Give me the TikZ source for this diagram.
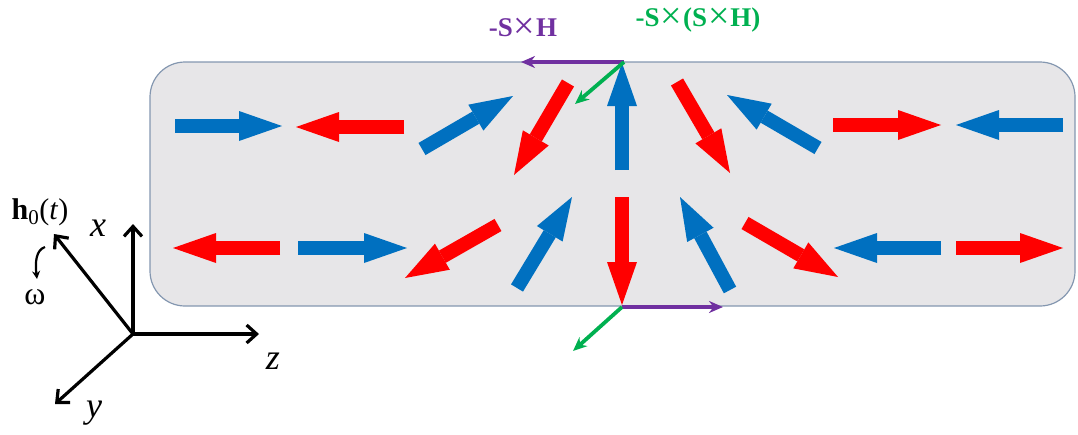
\documentclass[tikz,border=0pt]{standalone}
\usepackage{fontspec}
\setmainfont{Liberation Serif}
\usetikzlibrary{arrows.meta}
\definecolor{sblue}{HTML}{0070C0}
\definecolor{sred}{HTML}{FF0000}
\definecolor{vpurple}{HTML}{7030A0}
\definecolor{vgreen}{HTML}{00B050}
\definecolor{boxfill}{HTML}{E7E6E8}
\definecolor{boxedge}{HTML}{8497B0}
\newcommand{\crossx}{\hspace{1pt}\smash{\raisebox{-2pt}{\fontsize{38}{38}\selectfont\mdseries×}}\hspace{1pt}}
\tikzset{
  spin/.style={line width=14pt,draw=#1,-{Triangle[length=43pt,width=30pt,line width'=0pt]}},
  vec/.style={line width=3.8pt,draw=#1,-{Stealth[length=14pt,width=12pt]}},
  axis/.style={line width=3.2pt,-{Straight Barb[length=10pt,width=18pt]}},
  axlabel/.style={font=\fontsize{36}{40}\selectfont\itshape},
  veclabel/.style={font=\fontsize{27}{30}\selectfont\bfseries,text=#1}
}
\begin{document}
\begin{tikzpicture}[x=1pt,y=-1pt]
\useasboundingbox (0,0) rectangle (1078,434);
% vzorek
\draw[fill=boxfill,draw=boxedge,line width=1.2pt,rounded corners=35pt] (150,62) rectangle (1075,306);
% spiny: horni a dolni rada
\foreach \ax/\ay/\bx/\by/\c in {175/126/282/126/sblue, 404/127/296/127/sred,
    422/149/513/96/sblue, 568/83/514/175/sred, 622/170/622/63/sblue,
    677/82/730/173/sred, 818/148/727/95/sblue, 833/125/941/125/sred,
    1063/125/956/125/sblue,
    280/248/173/248/sred, 298/248/407/248/sblue, 498/225/405/278/sred,
    517/288/572/197/sblue, 622/197/622/305/sred, 730/290/680/197/sblue,
    745/223/838/277/sred, 941/248/834/248/sblue, 956/248/1063/248/sred}
  \draw[spin=\c] (\ax,\ay) -- (\bx,\by);
% momenty sil
\coordinate (top) at (624,62);
\coordinate (bot) at (622,307);
\coordinate (topSH) at (521,62);
\coordinate (topSSH) at (575,104);
\coordinate (botSH) at (723,307);
\coordinate (botSSH) at (573,351);
\draw[vec=vpurple] (top) -- (topSH);
\draw[vec=vgreen] (top) -- (topSSH);
\draw[vec=vpurple] (bot) -- (botSH);
\draw[vec=vgreen] (bot) -- (botSSH);
\node[veclabel=vpurple] (lSH) at (523,28) {-S\crossx H};
\node[veclabel=vgreen] (lSSH) at (698,20) {-S\crossx(S\crossx H)};
% souradnice
\coordinate (O) at (133,334);
\coordinate (ex) at (133,224);
\coordinate (ez) at (259,334);
\coordinate (ey) at (55,404);
\coordinate (eh) at (54,234);
\draw[axis] (O) -- (ex);
\draw[axis] (O) -- (ez);
\draw[axis] (O) -- (ey);
\draw[axis] (O) -- (eh);
\node[axlabel] (lx) at (98,228) {x};
\node[axlabel] (lz) at (273,361) {z};
\node[axlabel] (ly) at (94,413) {y};
\node[font=\fontsize{30}{34}\selectfont] (lh) at (40,212) {\textbf{h}\textsubscript{0}(\textit{t})};
\node[font=\fontsize{32}{34}\selectfont] (lw) at (35,297) {ω};
\coordinate (wa) at (45,247);
\coordinate (wb) at (37,279);
\draw[line width=2.2pt,-{Stealth[length=8pt,width=8pt]}] (wa) .. controls (36,250) and (35,262) .. (wb);
\end{tikzpicture}
\end{document}
